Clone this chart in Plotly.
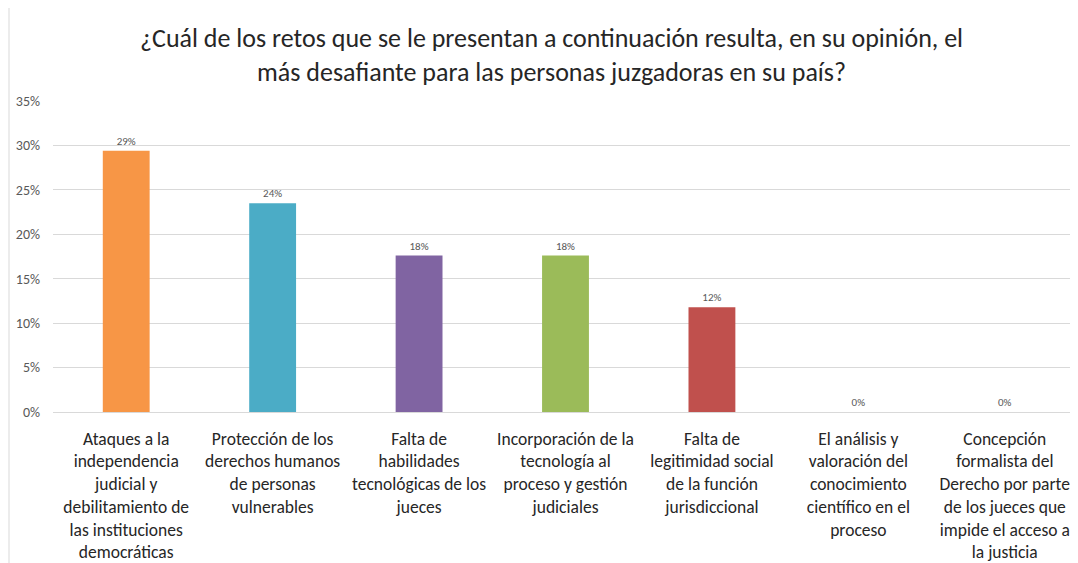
import plotly.graph_objects as go

categories = [
    "Ataques a la<br>independencia<br>judicial y<br>debilitamiento de<br>las instituciones<br>democráticas",
    "Protección de los<br>derechos humanos<br>de personas<br>vulnerables",
    "Falta de<br>habilidades<br>tecnológicas de los<br>jueces",
    "Incorporación de la<br>tecnología al<br>proceso y gestión<br>judiciales",
    "Falta de<br>legitimidad social<br>de la función<br>jurisdiccional",
    "El análisis y<br>valoración del<br>conocimiento<br>científico en el<br>proceso",
    "Concepción<br>formalista del<br>Derecho por parte<br>de los jueces que<br>impide el acceso a<br>la justicia",
]
values = [0.294, 0.235, 0.176, 0.176, 0.118, 0.0, 0.0]
colors = ["#F79646", "#4BACC6", "#8064A2", "#9BBB59", "#C0504D", "#4F81BD", "#C0504D"]
y_ticks = [0, 0.05, 0.10, 0.15, 0.20, 0.25, 0.30, 0.35]

title = ("¿Cuál de los retos que se le presentan a continuación resulta, en su opinión, el<br>"
         "más desafiante para las personas juzgadoras en su país?")

FONT = "Carlito, Calibri, Lato, sans-serif"

fig = go.Figure(go.Bar(
    x=categories, y=values,
    marker=dict(color=colors, line=dict(width=0)),
    texttemplate="%{y:.0%}", textposition="outside",
    textfont=dict(size=11, color="#595959", family=FONT),
    cliponaxis=False,
))

fig.update_layout(
    width=1070, height=555,
    paper_bgcolor="white", plot_bgcolor="white",
    margin=dict(l=45, r=0, t=93, b=147),
    bargap=0.68,
    showlegend=False,
    font=dict(family=FONT),
    title=dict(text=title, x=0.508, xanchor="center", y=0.93, yanchor="top",
               font=dict(size=26, color="#262626", family=FONT)),
    xaxis=dict(tickfont=dict(size=17.5, color="#262626", family=FONT),
               showline=False, showgrid=False, ticks="", tickangle=0,
               ticklabelstandoff=14),
    yaxis=dict(range=[0, 0.35], tickvals=y_ticks, tickformat=".0%",
               tickfont=dict(size=14, color="#595959", family=FONT),
               showgrid=True, gridcolor="#D9D9D9", gridwidth=1,
               zeroline=True, zerolinecolor="#D9D9D9", zerolinewidth=1,
               showline=False, ticklabelstandoff=12),
    shapes=[dict(type="line", xref="paper", yref="paper",
                 x0=-44/1025, x1=-44/1025, y0=-0.5, y1=1.3,
                 line=dict(color="#D9D9D9", width=1))],
)

fig.write_html("out.html")
